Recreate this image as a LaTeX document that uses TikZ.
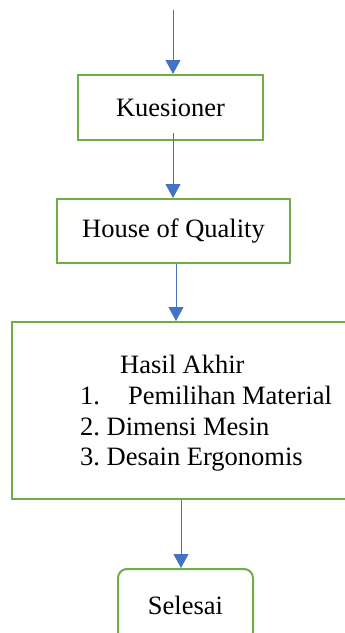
\documentclass[tikz,border=0pt]{standalone}
\usepackage{fontspec}
\setmainfont{Liberation Serif}
\usetikzlibrary{positioning, arrows.meta}
\definecolor{boxgreen}{RGB}{112,173,71}
\definecolor{arrowblue}{RGB}{68,114,196}
\frenchspacing

\begin{document}
\begin{tikzpicture}[x=1pt,y=-1pt,on grid,
    font=\fontsize{26.5}{30.7}\selectfont,
    flowbox/.style={draw=boxgreen,line width=2pt,inner sep=0pt},
    flow/.style={draw=arrowblue,line width=1pt,-{Triangle[width=15pt,length=14pt]}}]
      \path[use as bounding box] (0,0) rectangle (345,633);
      \clip (0,0) rectangle (345,633);
      \coordinate (start) at (173,10);
      \node[flowbox,minimum width=185pt,minimum height=65pt] (kues) at (170.5,107.5) {Kuesioner};
      \node[flowbox,minimum width=233pt,minimum height=64pt] (hoq) [below=123.5pt of kues, xshift=3pt] {House of Quality};
      \node[flowbox,minimum width=336pt,minimum height=177pt] (hasil) [below=179.5pt of hoq, xshift=6.5pt] {};
      \node[anchor=west,align=left,inner sep=0pt] (hasiltxt) at ([xshift=69pt,yshift=-3pt]hasil.west)
        {\hspace*{40pt}Hasil Akhir\\
         1.\hspace{28pt}Pemilihan Material\\
         2. Dimensi Mesin\\
         3. Desain Ergonomis};
      \node[flowbox,rounded corners=9pt,minimum width=135pt,minimum height=72pt] (selesai) [below=194.5pt of hasil, xshift=5.5pt] {Selesai};
      \draw[flow] (start) -- (start |- kues.north);
      \draw[flow] ([xshift=2.5pt,yshift=8pt]kues.south) -- ([xshift=2.5pt]kues.south |- hoq.north);
      \draw[flow] ([xshift=2.5pt]hoq.south) -- ([xshift=2.5pt]hoq.south |- hasil.north);
      \draw[flow] ([xshift=1pt]hasil.south) -- ([xshift=1pt]hasil.south |- selesai.north);
\end{tikzpicture}
\end{document}
